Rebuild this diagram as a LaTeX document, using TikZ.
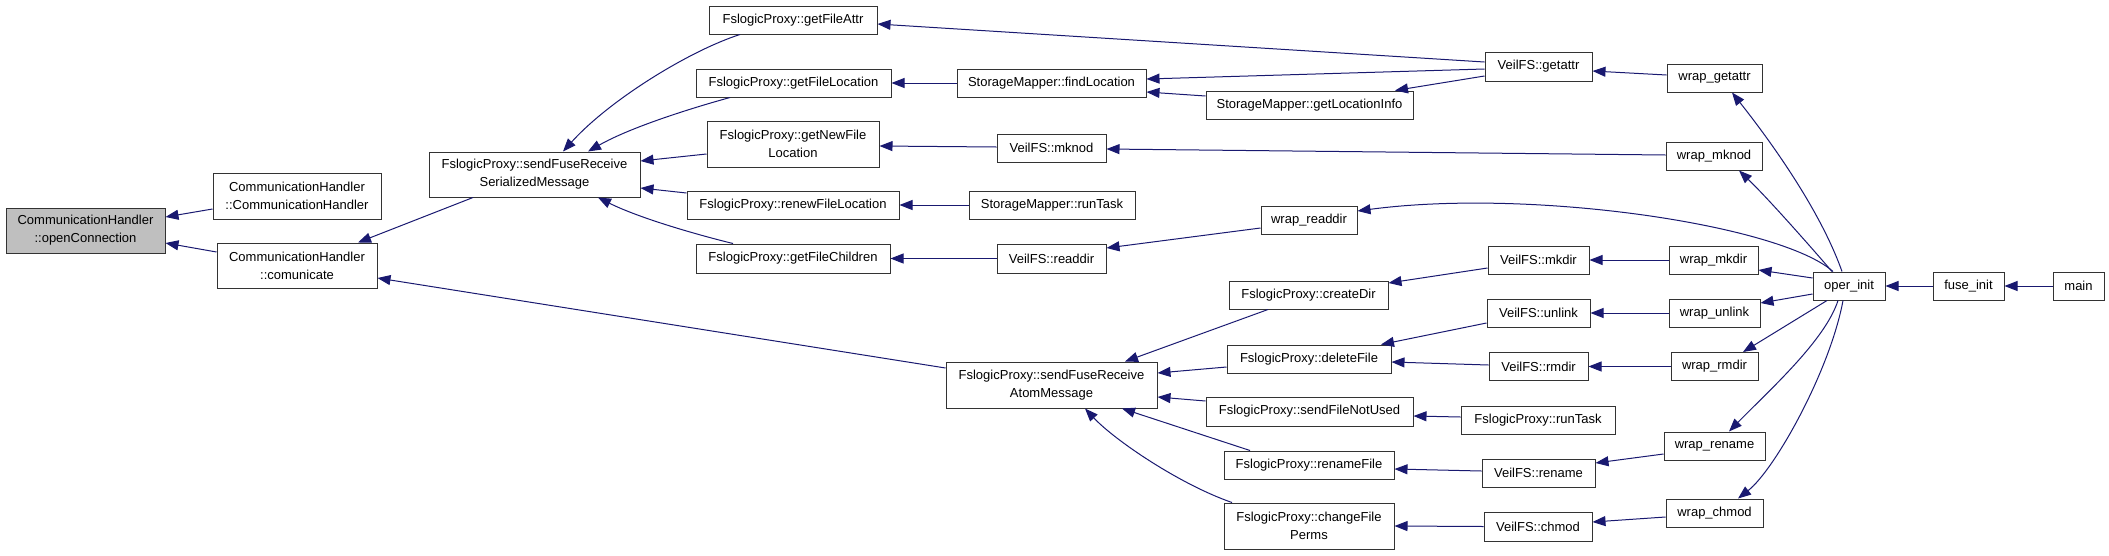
\documentclass[tikz,border=0pt]{standalone}
\usepackage{fontspec}
\setmainfont{Liberation Sans}
\usetikzlibrary{arrows.meta}
\definecolor{edgeblue}{RGB}{25,25,112}
\definecolor{boxgray}{RGB}{191,191,191}
\begin{document}
\begin{tikzpicture}[x=1pt,y=-1pt,
  box/.style={draw=black!80,line width=1pt,fill=white,inner sep=0pt,minimum height=28pt,
    align=center,font=\fontsize{13}{18}\selectfont},
  edge/.style={draw=edgeblue,line width=1pt,-{Triangle[length=13pt,width=10pt]}}]
\useasboundingbox (0,0) rectangle (2109,555);
% nodes
\node[box,fill=boxgray,minimum width=159pt,minimum height=45pt] (oc) at (85.5,230.5) {CommunicationHandler\\::openConnection};
\node[box,minimum width=168pt,minimum height=46pt] (chch) at (297,196) {CommunicationHandler\\::CommunicationHandler};
\node[box,minimum width=160pt,minimum height=45pt] (com) at (297,265.5) {CommunicationHandler\\::comunicate};
\node[box,minimum width=211pt,minimum height=45pt] (ser) at (534.5,174.5) {FslogicProxy::sendFuseReceive\\SerializedMessage};
\node[box,minimum width=211pt,minimum height=46pt] (atom) at (1051.5,385) {FslogicProxy::sendFuseReceive\\AtomMessage};
\node[box,minimum width=168pt] (gfa) at (793,20) {FslogicProxy::getFileAttr};
\node[box,minimum width=195pt] (gfl) at (793.5,83) {FslogicProxy::getFileLocation};
\node[box,minimum width=172pt,minimum height=46pt] (gnfl) at (793,144) {FslogicProxy::getNewFile\\Location};
\node[box,minimum width=212pt] (rfl) at (793,205) {FslogicProxy::renewFileLocation};
\node[box,minimum width=194pt,minimum height=29pt] (gfc) at (793,258.5) {FslogicProxy::getFileChildren};
\node[box,minimum width=189pt] (smfl) at (1051.5,83) {StorageMapper::findLocation};
\node[box,minimum width=207pt] (smgli) at (1309.5,105) {StorageMapper::getLocationInfo};
\node[box,minimum width=109pt] (vmknod) at (1051.5,148) {VeilFS::mknod};
\node[box,minimum width=166pt] (smrt) at (1052,205) {StorageMapper::runTask};
\node[box,minimum width=109pt,minimum height=29pt] (vreaddir) at (1051.5,258.5) {VeilFS::readdir};
\node[box,minimum width=96pt] (wreaddir) at (1309,220) {wrap\_readdir};
\node[box,minimum width=107pt,minimum height=29pt] (vgetattr) at (1538.5,66.5) {VeilFS::getattr};
\node[box,minimum width=95pt] (wgetattr) at (1714.5,78) {wrap\_getattr};
\node[box,minimum width=96pt] (wmknod) at (1714,156) {wrap\_mknod};
\node[box,minimum width=101pt] (vmkdir) at (1538.5,260) {VeilFS::mkdir};
\node[box,minimum width=89pt] (wmkdir) at (1713.5,260) {wrap\_mkdir};
\node[box,minimum width=159pt] (createdir) at (1308.5,295) {FslogicProxy::createDir};
\node[box,minimum width=103pt] (vunlink) at (1538.5,313) {VeilFS::unlink};
\node[box,minimum width=91pt] (wunlink) at (1714.5,313) {wrap\_unlink};
\node[box,minimum width=164pt] (deletefile) at (1309,359) {FslogicProxy::deleteFile};
\node[box,minimum width=99pt] (vrmdir) at (1538.5,366.5) {VeilFS::rmdir};
\node[box,minimum width=87pt] (wrmdir) at (1714.5,366.5) {wrap\_rmdir};
\node[box,minimum width=207pt,minimum height=29pt] (sfnu) at (1309.5,411.5) {FslogicProxy::sendFileNotUsed};
\node[box,minimum width=154pt] (fprt) at (1538,420) {FslogicProxy::runTask};
\node[box,minimum width=170pt] (renamefile) at (1309,465) {FslogicProxy::renameFile};
\node[box,minimum width=101pt] (wrename) at (1714.5,446) {wrap\_rename};
\node[box,minimum width=113pt] (vrename) at (1538.5,473) {VeilFS::rename};
\node[box,minimum width=170pt,minimum height=46pt] (cfp) at (1309,526) {FslogicProxy::changeFile\\Perms};
\node[box,minimum width=97pt] (wchmod) at (1714.5,513) {wrap\_chmod};
\node[box,minimum width=108pt,minimum height=29pt] (vchmod) at (1538,526.5) {VeilFS::chmod};
\node[box,minimum width=72pt] (operinit) at (1849,286) {oper\_init};
\node[box,minimum width=71pt] (fuseinit) at (1968.5,286) {fuse\_init};
\node[box,minimum width=51pt] (main) at (2078.5,286) {main};
% edges
\draw[edge] ([yshift=-13]chch.west) -- ([yshift=13.5]oc.east);
\draw[edge] ([yshift=13.5]com.west) -- ([yshift=-12.5]oc.east);
\draw[edge] ([xshift=-61.5]ser.south) -- ([xshift=61]com.north);
\draw[edge] ([yshift=17]atom.west) -- ([yshift=-12.5]com.east);
\draw[edge] ([xshift=-53]gfa.south) .. controls +(-50,16) and +(47,-52) .. ([xshift=28.5]ser.north);
\draw[edge] ([xshift=-63.5]gfl.south) .. controls +(-40,11) and +(42,-24) .. ([xshift=53.5]ser.north);
\draw[edge] ([yshift=-10]gnfl.west) -- ([yshift=13.5]ser.east);
\draw[edge] ([yshift=12]rfl.west) -- ([yshift=-13.5]ser.east);
\draw[edge] ([xshift=-60]gfc.north) .. controls +(-33,-8) and +(42,21) .. ([xshift=63.5]ser.south);
\draw[edge] (smfl.west) -- (gfl.east);
\draw[edge] ([yshift=4.5]vgetattr.west) -- ([yshift=-4]gfa.east);
\draw[edge] ([yshift=-2.5]vgetattr.west) -- ([yshift=4]smfl.east);
\draw[edge] ([yshift=9]smgli.west) -- ([yshift=-9]smfl.east);
\draw[edge] ([yshift=-9.5]vgetattr.west) -- ([xshift=85.5]smgli.north);
\draw[edge] ([yshift=1]vmknod.west) -- ([yshift=-2]gnfl.east);
\draw[edge] ([yshift=1]wmknod.west) -- ([yshift=-1]vmknod.east);
\draw[edge] (smrt.west) -- (rfl.east);
\draw[edge] (vreaddir.west) -- (gfc.east);
\draw[edge] ([yshift=-8]wreaddir.west) -- ([yshift=10.5]vreaddir.east);
\draw[edge] ([yshift=3]wgetattr.west) -- ([yshift=-4.5]vgetattr.east);
\draw[edge] ([xshift=-16]operinit.north) .. controls +(-53,-47) and +(173,-23) .. ([yshift=9]wreaddir.east);
\draw[edge] ([xshift=-7]operinit.north) .. controls +(-22,-62) and +(38,48) .. ([xshift=17.5]wgetattr.south);
\draw[edge] ([xshift=-17]operinit.north) .. controls +(-32,-37) and +(26,25) .. ([xshift=25]wmknod.south);
\draw[edge] ([yshift=8]operinit.west) -- ([yshift=-10]wmkdir.east);
\draw[edge] ([yshift=-8]operinit.west) -- ([yshift=10]wunlink.east);
\draw[edge] ([xshift=-22]operinit.south) -- ([xshift=28.5]wrmdir.north);
\draw[edge] ([xshift=-11]operinit.south) .. controls +(-13,40) and +(41,-42) .. ([xshift=14.5]wrename.north);
\draw[edge] ([xshift=-6]operinit.south) .. controls +(-13,70) and +(37,-29) .. ([xshift=23.5]wchmod.north);
\draw[edge] (fuseinit.west) -- (operinit.east);
\draw[edge] (main.west) -- (fuseinit.east);
\draw[edge] (wmkdir.west) -- (vmkdir.east);
\draw[edge] ([yshift=-8]vmkdir.west) -- ([yshift=12]createdir.east);
\draw[edge] (wunlink.west) -- (vunlink.east);
\draw[edge] ([yshift=-10]vunlink.west) -- ([xshift=72]deletefile.north);
\draw[edge] (wrmdir.west) -- (vrmdir.east);
\draw[edge] ([yshift=1.5]vrmdir.west) -- ([yshift=-3]deletefile.east);
\draw[edge] ([yshift=3]fprt.west) -- ([yshift=-4.5]sfnu.east);
\draw[edge] ([yshift=-8]wrename.west) -- ([yshift=10]vrename.east);
\draw[edge] ([yshift=2]vrename.west) -- ([yshift=-4]renamefile.east);
\draw[edge] ([yshift=-4]wchmod.west) -- ([yshift=4.5]vchmod.east);
\draw[edge] (vchmod.west) -- (cfp.east);
\draw[edge] ([xshift=-40.5]createdir.south) -- ([xshift=73.5]atom.north);
\draw[edge] ([yshift=-8]deletefile.west) -- ([yshift=12]atom.east);
\draw[edge] ([yshift=10.5]sfnu.west) -- ([yshift=-12]atom.east);
\draw[edge] ([xshift=-59]renamefile.north) -- ([xshift=70.5]atom.south);
\draw[edge] ([xshift=-77]cfp.north) .. controls +(-52,-18) and +(30,32) .. ([xshift=33.5]atom.south);
\end{tikzpicture}
\end{document}
